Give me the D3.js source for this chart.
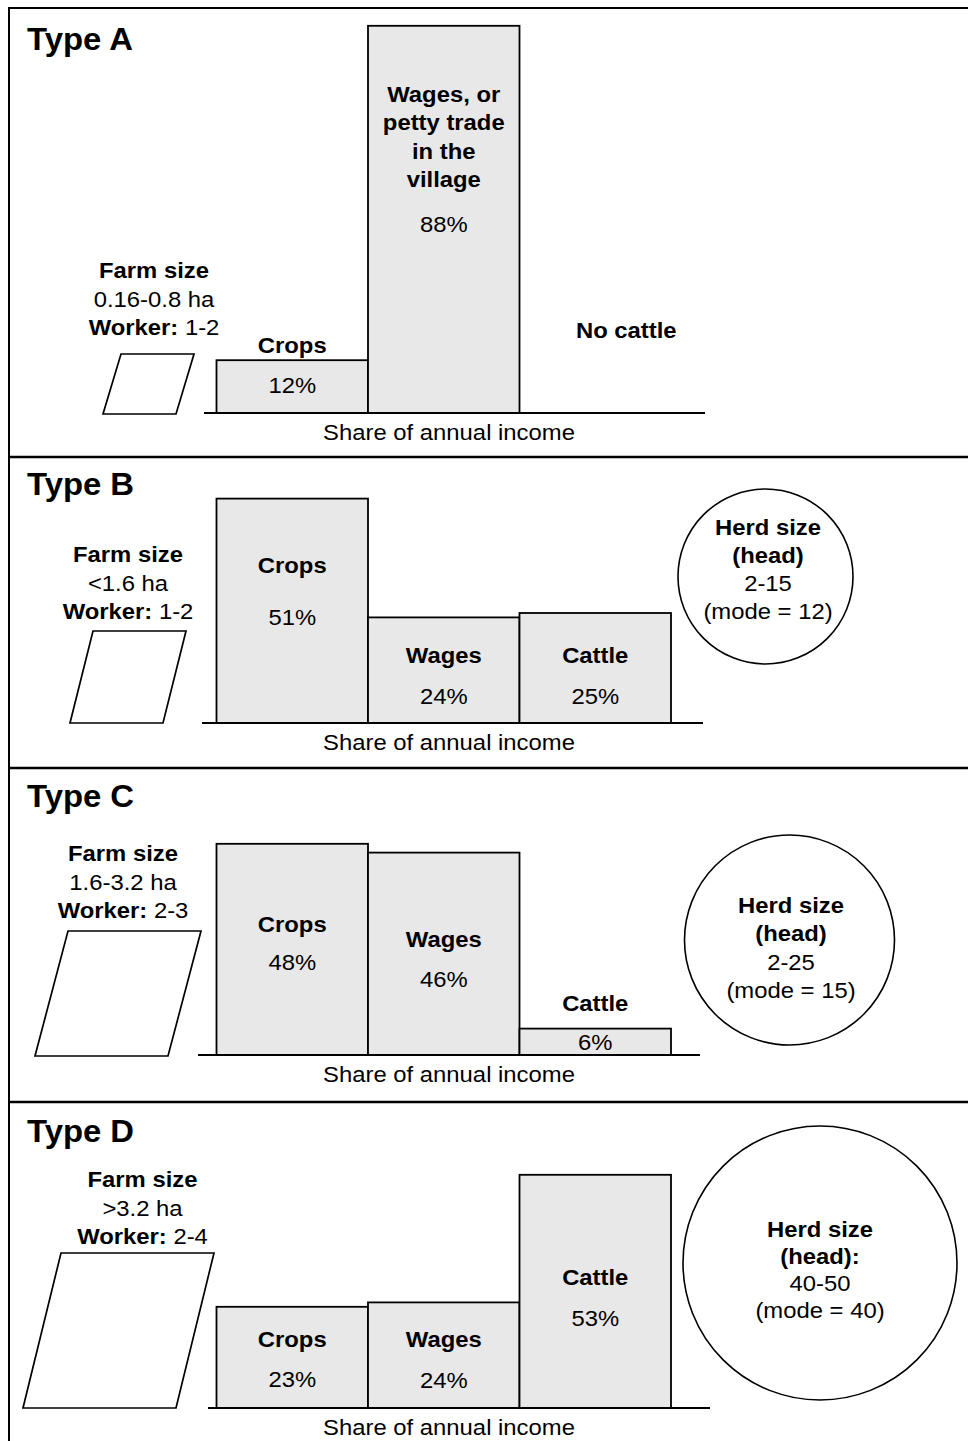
<!DOCTYPE html>
<html><head><meta charset="utf-8">
<script src="https://cdn.jsdelivr.net/npm/d3@7"></script>
<style>html,body{margin:0;padding:0;background:#fff;} svg{display:block;}</style>
</head><body><div id="chart"></div>
<script>
// ---------- data ----------
const panelLabels = ["Type A", "Type B", "Type C", "Type D"];
const incomeSources = ["Crops", "Wages", "Cattle"];
const cropsShare = [12, 51, 48, 23];
const wagesShare = [88, 24, 46, 24];
const cattleShare = [null, 25, 6, 53];
const cropsTitles = [["Crops"], ["Crops"], ["Crops"], ["Crops"]];
const wagesTitles = [["Wages, or", "petty trade", "in the", "village"], ["Wages"], ["Wages"], ["Wages"]];
const cattleTitles = [["No cattle"], ["Cattle"], ["Cattle"], ["Cattle"]];
const farmSizes = ["0.16-0.8 ha", "<1.6 ha", "1.6-3.2 ha", ">3.2 ha"];
const workerCounts = ["1-2", "1-2", "2-3", "2-4"];
const herdRanges = [null, "2-15", "2-25", "40-50"];
const herdModes = [null, 12, 15, 40];
const herdHeads = [null, "(head)", "(head)", "(head):"];
const axisTitle = "Share of annual income";

// ---------- layout ----------
const W = 968, H = 1441;
const SX = 1.06, FS = 22.5, TFS = 31;
const FONT = "'Liberation Sans', Arial, Helvetica, sans-serif";
const layout = [
  { top: 8, base: 413, axis: [204, 705], titleY: 50,
    farm: { x: 154, y: 278 }, para: { x: 103, y: 414, w: 73, h: 60, skew: 18 },
    herd: null, labelDy: [[-7, 33], [76, 206], [-75, 0]], lineH: 28.5, noBarDx: 31 },
  { top: 457, base: 723, axis: [202, 703], titleY: 495,
    farm: { x: 128, y: 562 }, para: { x: 70, y: 723, w: 93, h: 92, skew: 23 },
    herd: { cx: 765.5, cy: 576.5, r: 87.5, tx: 768, ty: 535, lh: 28 },
    labelDy: [[74, 126], [46, 87], [50, 91]], lineH: 28.5 },
  { top: 768, base: 1055, axis: [198, 700], titleY: 807,
    farm: { x: 123, y: 861 }, para: { x: 35, y: 1056, w: 133, h: 125, skew: 33 },
    herd: { cx: 789.5, cy: 940, r: 105, tx: 791, ty: 913, lh: 28.3 },
    labelDy: [[88, 126], [94, 134], [-18, 21]], lineH: 28.5 },
  { top: 1102, base: 1408, axis: [208, 710], titleY: 1142,
    farm: { x: 142.5, y: 1187 }, para: { x: 23, y: 1408, w: 153, h: 155, skew: 38 },
    herd: { cx: 820, cy: 1263, r: 137, tx: 820, ty: 1237, lh: 27 },
    labelDy: [[40, 80], [45, 86], [110, 151]], lineH: 28.5 }
];

const svg = d3.select("#chart").append("svg")
  .attr("width", W).attr("height", H)
  .style("font-family", FONT);

svg.append("rect").attr("width", W).attr("height", H).attr("fill", "#fff");

const x = d3.scaleBand().domain(incomeSources).range([216.5, 671]).paddingInner(0).paddingOuter(0);
const h = d3.scaleLinear().domain([0, 100]).range([0, 440]);

function addText(g, tx, ty, parts, opt = {}) {
  const t = g.append("text")
    .attr("transform", `translate(${tx},${ty}) scale(${SX},1)`)
    .attr("text-anchor", opt.anchor || "middle")
    .attr("font-size", opt.size || FS)
    .attr("fill", "#000");
  parts.forEach(p => {
    t.append("tspan").attr("font-weight", p.bold ? "bold" : "normal").text(p.t);
  });
  return t;
}

// frame
svg.append("path")
  .attr("d", `M9,${H + 5} L9,8 L${W + 5},8`)
  .attr("fill", "none").attr("stroke", "#000").attr("stroke-width", 2);
layout.slice(1).forEach(L => {
  svg.append("line").attr("x1", 9).attr("x2", W + 5).attr("y1", L.top).attr("y2", L.top)
    .attr("stroke", "#000").attr("stroke-width", 2.5);
});

panelLabels.forEach((label, i) => {
  const L = layout[i];
  const g = svg.append("g");

  // title
  addText(g, 27, L.titleY, [{ t: label, bold: true }], { anchor: "start", size: TFS });

  // farm info
  addText(g, L.farm.x, L.farm.y, [{ t: "Farm size", bold: true }]);
  addText(g, L.farm.x, L.farm.y + L.lineH, [{ t: farmSizes[i] }]);
  addText(g, L.farm.x, L.farm.y + 2 * L.lineH, [{ t: "Worker:", bold: true }, { t: " " + workerCounts[i] }]);

  // parallelogram
  const p = L.para;
  g.append("path")
    .attr("d", `M${p.x},${p.y} L${p.x + p.w},${p.y} L${p.x + p.w + p.skew},${p.y - p.h} L${p.x + p.skew},${p.y - p.h} Z`)
    .attr("fill", "#fff").attr("stroke", "#000").attr("stroke-width", 1.7);

  // bars
  const rows = [
    { key: "Crops", v: cropsShare[i], titles: cropsTitles[i] },
    { key: "Wages", v: wagesShare[i], titles: wagesTitles[i] },
    { key: "Cattle", v: cattleShare[i], titles: cattleTitles[i] }
  ];
  rows.forEach((r, j) => {
    const cx = x(r.key) + x.bandwidth() / 2;
    if (r.v == null) {
      // no bar: label only
      addText(g, cx + (L.noBarDx || 0), L.base + L.labelDy[j][0], [{ t: r.titles[0], bold: true }]);
      return;
    }
    const top = L.base - h(r.v);
    g.append("rect")
      .attr("x", x(r.key)).attr("y", top)
      .attr("width", x.bandwidth()).attr("height", h(r.v))
      .attr("fill", "#e8e8e8").attr("stroke", "#000").attr("stroke-width", 1.8);
    r.titles.forEach((t, k) => {
      addText(g, cx, top + L.labelDy[j][0] + k * L.lineH, [{ t: t, bold: true }]);
    });
    addText(g, cx, top + L.labelDy[j][1], [{ t: r.v + "%" }]);
  });

  // baseline
  g.append("line").attr("x1", L.axis[0]).attr("x2", L.axis[1])
    .attr("y1", L.base).attr("y2", L.base)
    .attr("stroke", "#000").attr("stroke-width", 2);
  addText(g, 449, L.base + 27, [{ t: axisTitle }]);

  // herd circle
  if (L.herd) {
    const c = L.herd;
    g.append("circle").attr("cx", c.cx).attr("cy", c.cy).attr("r", c.r)
      .attr("fill", "#fff").attr("stroke", "#000").attr("stroke-width", 1.6);
    addText(g, c.tx, c.ty, [{ t: "Herd size", bold: true }]);
    addText(g, c.tx, c.ty + c.lh, [{ t: herdHeads[i], bold: true }]);
    addText(g, c.tx, c.ty + 2 * c.lh, [{ t: herdRanges[i] }]);
    addText(g, c.tx, c.ty + 3 * c.lh, [{ t: "(mode = " + herdModes[i] + ")" }]);
  }
});
</script>
</body></html>
